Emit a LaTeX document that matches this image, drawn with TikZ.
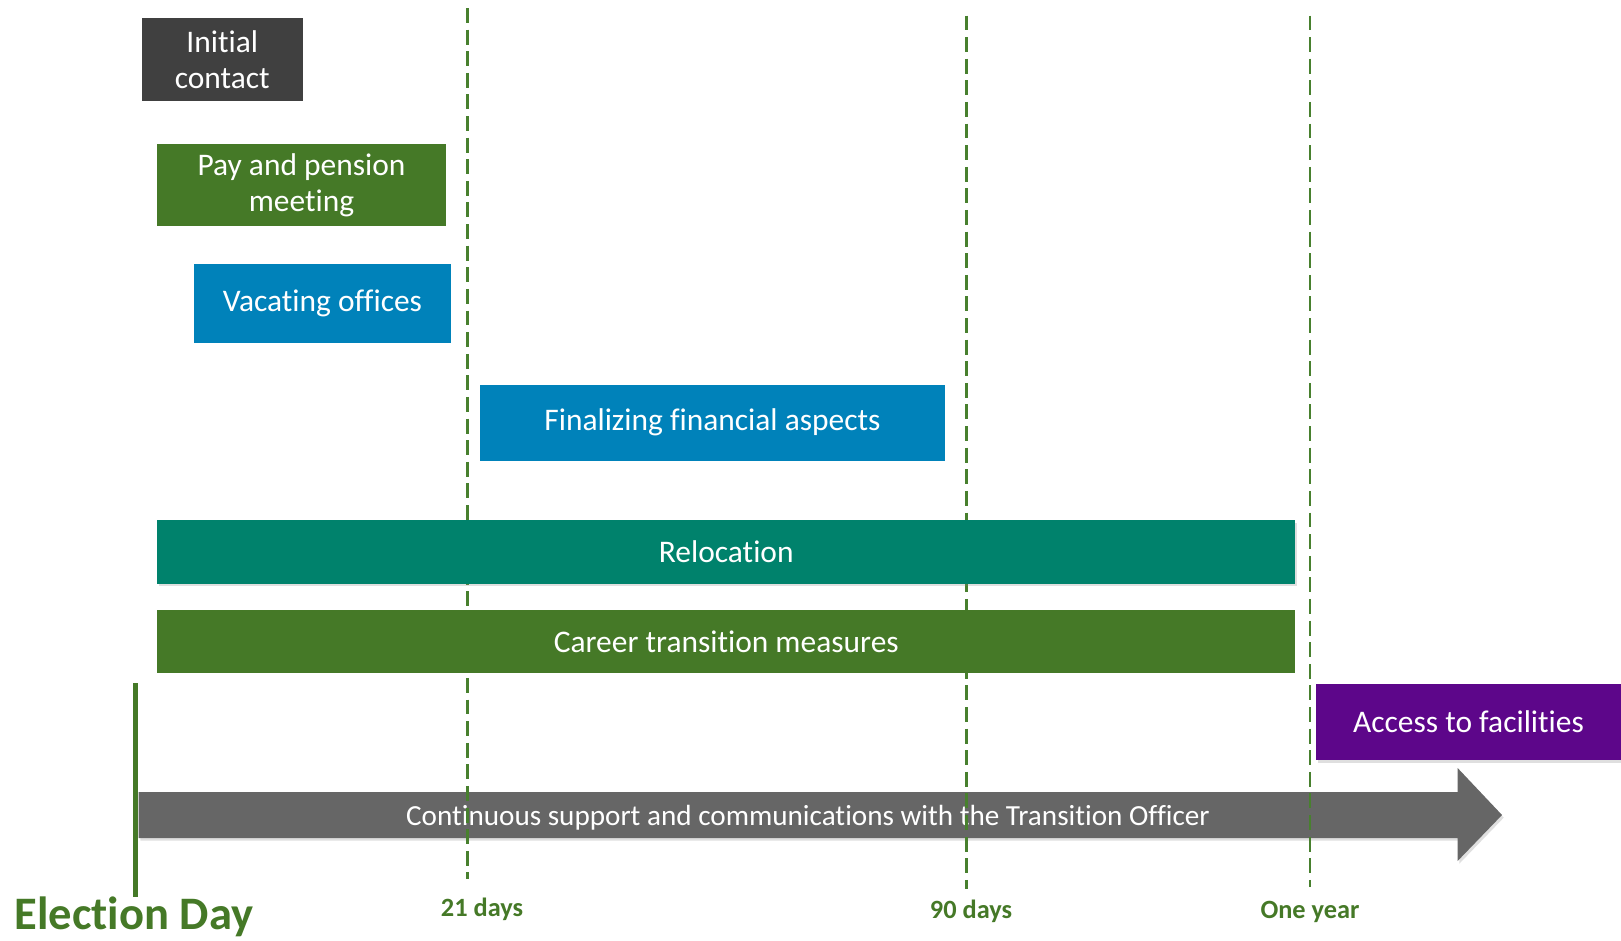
\documentclass[tikz,border=0pt]{standalone}
\usepackage{fontspec}
\setmainfont{Carlito}[Ligatures=NoCommon,RawFeature={-calt;-clig;-liga}]
\usepackage{tikz}
\usetikzlibrary{positioning,shadows}
\usepackage{xcolor}
\definecolor{darkbox}{RGB}{64,64,64}
\definecolor{leafgreen}{RGB}{69,121,39}
\definecolor{seablue}{RGB}{0,130,186}
\definecolor{tealbar}{RGB}{0,130,108}
\definecolor{plum}{RGB}{93,6,138}
\definecolor{arrowgray}{RGB}{102,102,102}
\definecolor{dashgreen}{RGB}{72,128,46}

\begin{document}
\begin{tikzpicture}[x=0.02cm,y=-0.02cm,
    bar/.style={rectangle,inner sep=0pt,text=white,align=center,
        font=\fontsize{17.9}{20.5}\selectfont},
    soft/.style={drop shadow={shadow xshift=1pt,shadow yshift=-1.5pt,opacity=0.25}},
    marker/.style={dashgreen,line width=1.2pt,dash pattern=on 8.5pt off 3.8pt},
    ticklabel/.style={anchor=base,text=leafgreen,font=\bfseries\fontsize{15}{18}\selectfont}]
\useasboundingbox (0,0) rectangle (1621,940);

% Timeline arrow
\fill[arrowgray,soft] (138.5,792) -- (1457.6,792) -- (1457.6,768) -- (1502,815)
    -- (1457.6,861) -- (1457.6,838) -- (138.5,838) -- cycle;
\node[text=white,font=\fontsize{16.6}{19}\selectfont] (support) at (808,818)
    {Continuous support and communications with the Transition Officer};

% Milestones
\foreach \n/\x/\top/\bot in {d21/467.5/8/879, d90/966.5/15.5/889, yr/1310/15.5/887} {
    \coordinate (\n top) at (\x,\top);
    \coordinate (\n bot) at (\x,\bot);
    \draw[marker] (\n top) -- (\n bot);
}
\node[ticklabel] (lab21) at (482,916) {21 days};
\node[ticklabel] (lab90) at (971,918) {90 days};
\node[ticklabel] (labyr) at (1310,918) {One year};

% Election day
\coordinate (eday top) at (135.5,683);
\coordinate (eday bot) at (135.5,897);
\draw[leafgreen,line width=2.3pt] (eday top) -- (eday bot);
\node[anchor=base,text=leafgreen,font=\bfseries\fontsize{26.5}{30}\selectfont] (eday) at (134,929) {Election Day};

% Tasks
\node[bar,fill=darkbox,minimum width=3.23cm,minimum height=1.68cm] (contact) at (222.25,59.5) {Initial\\contact};
\node[bar,fill=leafgreen,minimum width=5.78cm,minimum height=1.65cm] (pension) at (301.5,185.25) {Pay and pension\\meeting};
\node[bar,fill=seablue,minimum width=5.14cm,minimum height=1.57cm] (offices) at (322.5,303.25) {Vacating offices};
\node[bar,fill=seablue,minimum width=9.3cm,minimum height=1.51cm] (finance) at (712.5,422.75) {Finalizing financial aspects};
\node[bar,soft,fill=tealbar,minimum width=22.77cm,minimum height=1.27cm] (reloc) at (726.25,551.75) {Relocation};
\node[bar,fill=leafgreen,minimum width=22.77cm,minimum height=1.26cm] (career) at (726.25,641.5) {Career transition measures};
\node[bar,soft,fill=plum,minimum width=6.1cm,minimum height=1.52cm] (access) at (1468.5,722) {Access to facilities};

\end{tikzpicture}
\end{document}
